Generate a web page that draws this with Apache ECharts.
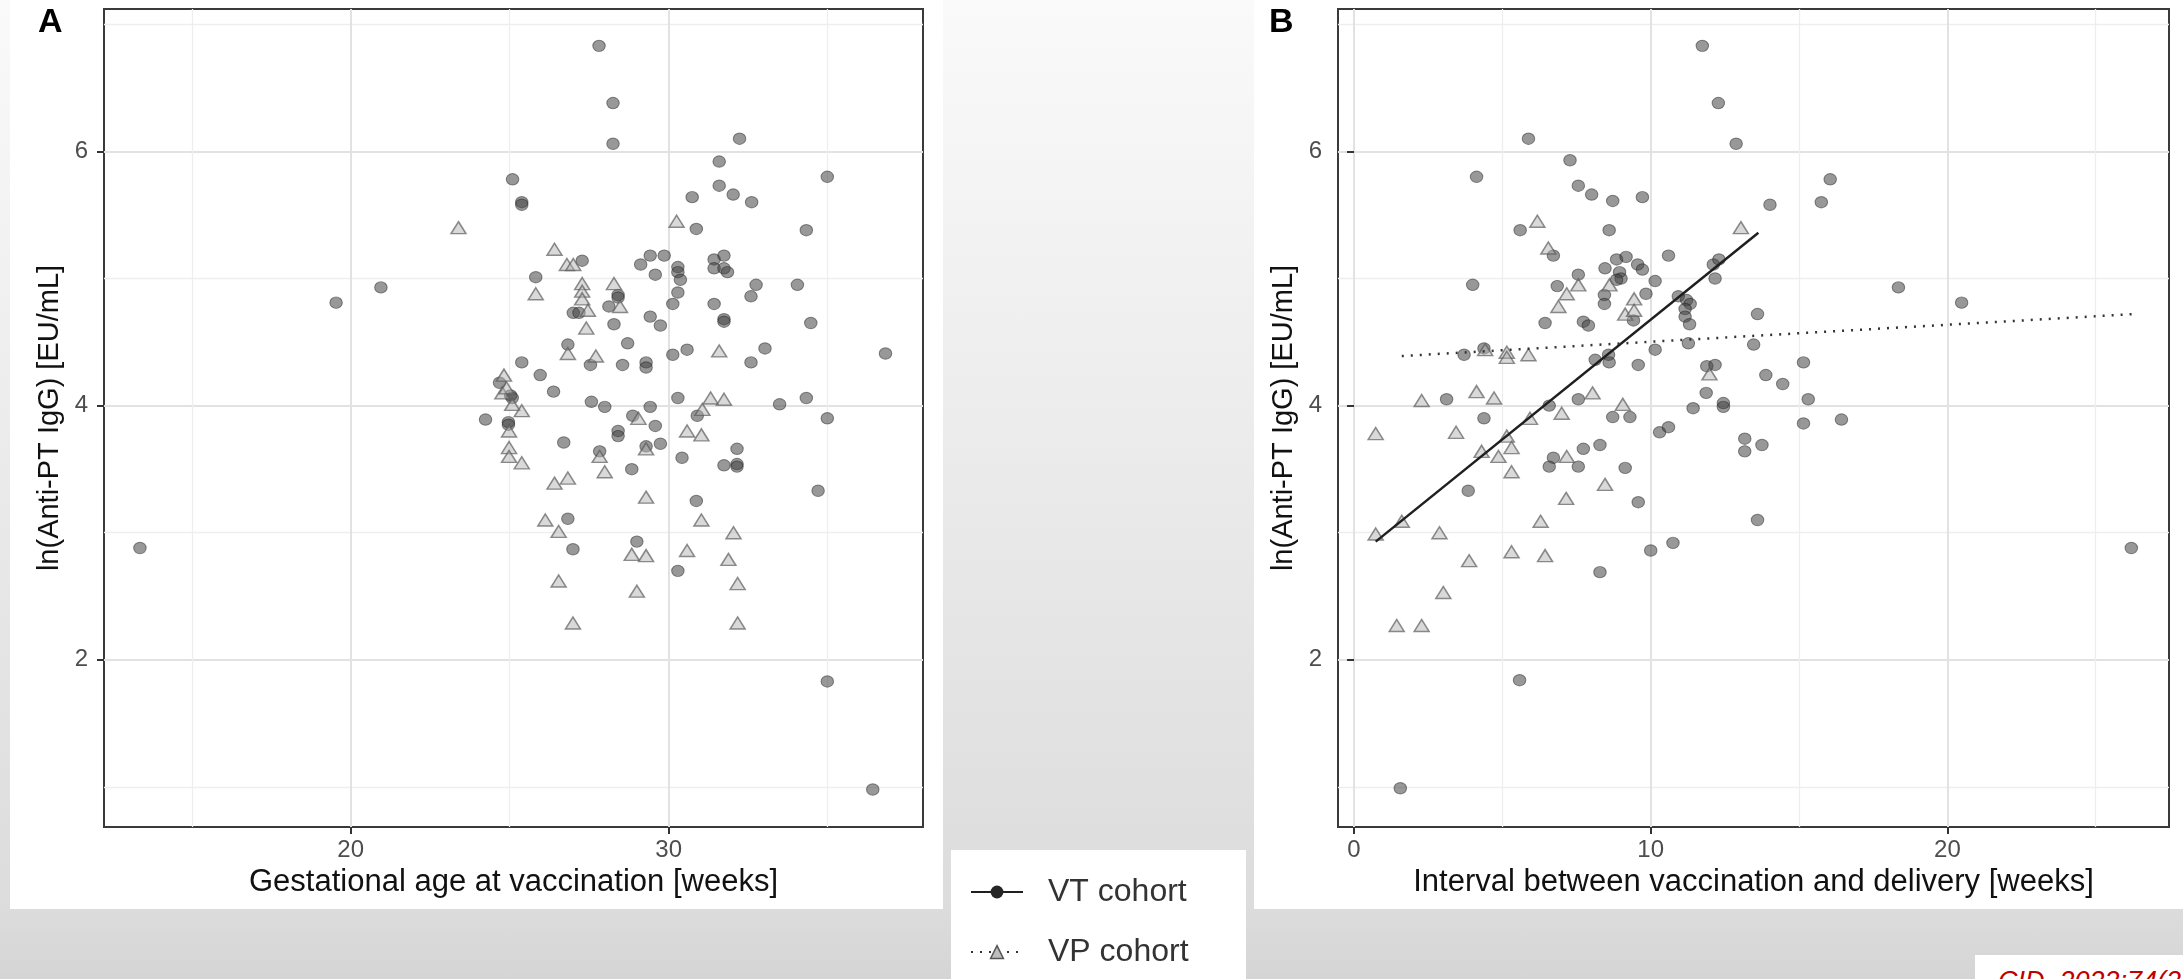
<!DOCTYPE html>
<html>
<head>
<meta charset="utf-8">
<title>Anti-PT IgG vs gestational age / interval</title>
<script src="https://cdn.jsdelivr.net/npm/echarts@6/dist/echarts.min.js"></script>
<style>
  html, body { margin: 0; padding: 0; }
  body {
    width: 2183px; height: 979px; position: relative; overflow: hidden;
    background: linear-gradient(#fafafa 0px, #dcdcdc 909px, #d5d5d5 979px);
    font-family: "Liberation Sans", Arial, sans-serif;
  }
  .box { position: absolute; background: #fff; }
  #chart { position: absolute; left: 0; top: 0; width: 2183px; height: 979px; }
  #cite span {
    position: absolute; left: 23px; top: 11px; white-space: nowrap; line-height: 30px;
    color: #c00000; font-style: italic; font-size: 27px;
  }
</style>
</head>
<body>
<div class="box" style="left:10px;top:0;width:933px;height:909px"></div>
<div class="box" style="left:1254px;top:0;width:929px;height:909px"></div>
<div class="box" style="left:951px;top:850px;width:295px;height:129px"></div>
<div class="box" id="cite" style="left:1975px;top:955px;width:208px;height:24px;overflow:hidden"><span>CID, 2022;74(2)</span></div>
<div id="chart"></div>
<script>
// panel A: gestational age at vaccination (weeks) vs ln(anti-PT IgG)
var vtGestAge = [27.81, 28.25, 28.25, 32.23, 31.59, 25.09, 34.99, 25.38, 25.38, 31.59,
  30.74, 32.03, 32.61, 30.87, 34.33, 27.28, 29.42, 29.86, 29.12, 29.58,
  30.29, 30.29, 30.37, 31.43, 31.74, 31.43, 31.74, 31.85, 25.82, 27.00,
  27.18, 28.41, 28.41, 28.12, 28.28, 29.42, 29.74, 30.29, 30.13, 31.43,
  31.74, 31.74, 32.75, 32.59, 34.05, 34.47, 26.83, 28.71, 27.54, 28.55,
  29.29, 29.29, 30.13, 30.58, 33.03, 32.59, 25.38, 25.96, 24.68, 25.03,
  25.08, 26.38, 24.24, 24.96, 24.96, 26.70, 27.57, 27.99, 29.42, 28.87,
  29.58, 28.41, 28.41, 29.74, 29.29, 27.83, 28.84, 30.29, 30.90, 30.42,
  32.15, 31.74, 32.15, 32.15, 33.49, 34.33, 34.70, 30.87, 26.83, 26.99,
  29.00, 30.29, 36.82, 34.99, 34.99, 36.42, 13.37, 19.54, 20.95];
var vtIgGA = [6.83, 6.38, 6.06, 6.10, 5.92, 5.78, 5.80, 5.60, 5.58, 5.73,
  5.64, 5.66, 5.60, 5.39, 5.38, 5.14, 5.18, 5.18, 5.11, 5.03,
  5.09, 5.05, 4.99, 5.15, 5.18, 5.08, 5.08, 5.05, 5.01, 4.73,
  4.73, 4.87, 4.85, 4.78, 4.64, 4.70, 4.63, 4.89, 4.80, 4.80,
  4.68, 4.66, 4.95, 4.86, 4.95, 4.65, 4.48, 4.49, 4.32, 4.32,
  4.34, 4.30, 4.40, 4.44, 4.45, 4.34, 4.34, 4.24, 4.18, 4.08,
  4.06, 4.11, 3.89, 3.87, 3.85, 3.71, 4.03, 3.99, 3.99, 3.92,
  3.84, 3.80, 3.76, 3.70, 3.68, 3.64, 3.50, 4.06, 3.92, 3.59,
  3.66, 3.53, 3.54, 3.52, 4.01, 4.06, 3.33, 3.25, 3.11, 2.87,
  2.93, 2.70, 4.41, 3.90, 1.83, 0.98, 2.88, 4.81, 4.93];
var vpGestAge = [23.39, 30.25, 26.41, 26.80, 27.00, 25.82, 27.28, 27.28, 27.28, 27.46,
  28.28, 28.47, 27.41, 26.83, 27.71, 31.59, 24.82, 24.77, 24.90, 25.08,
  25.38, 24.98, 24.98, 24.98, 25.38, 29.05, 29.29, 27.83, 27.99, 31.32,
  31.74, 31.06, 30.58, 31.03, 26.41, 26.83, 29.29, 26.12, 31.03, 26.54,
  32.04, 28.84, 29.29, 30.58, 31.88, 26.54, 29.00, 32.17, 26.99, 32.17];
var vpIgGA = [5.40, 5.45, 5.23, 5.11, 5.11, 4.88, 4.96, 4.90, 4.84, 4.75,
  4.96, 4.78, 4.61, 4.41, 4.39, 4.43, 4.24, 4.10, 4.14, 4.01,
  3.96, 3.80, 3.67, 3.60, 3.55, 3.90, 3.66, 3.60, 3.48, 4.06,
  4.05, 3.97, 3.80, 3.77, 3.39, 3.43, 3.28, 3.10, 3.10, 3.01,
  3.00, 2.83, 2.82, 2.86, 2.79, 2.62, 2.54, 2.60, 2.29, 2.29];

// panel B: interval between vaccination and delivery (weeks)
var vtInterval = [11.74, 12.28, 12.88, 5.88, 7.28, 4.13, 16.05, 7.56, 8.01, 8.72,
  9.72, 15.75, 14.02, 5.60, 8.60, 6.72, 10.60, 8.46, 8.85, 9.17,
  8.95, 9.00, 8.85, 9.56, 9.72, 10.15, 7.56, 6.85, 4.00, 12.11,
  12.30, 12.17, 8.44, 8.44, 9.84, 10.93, 11.21, 11.33, 11.16, 11.16,
  11.31, 13.60, 7.73, 7.90, 6.44, 9.42, 4.38, 3.71, 11.27, 10.15,
  13.47, 8.58, 8.60, 8.13, 9.58, 11.89, 12.17, 13.88, 14.45, 3.12,
  11.87, 7.56, 6.58, 11.43, 12.45, 12.45, 4.38, 8.72, 9.30, 10.30,
  10.60, 7.73, 8.29, 13.17, 13.17, 13.75, 6.72, 6.58, 7.56, 9.14,
  3.85, 9.58, 13.60, 10.00, 10.75, 8.29, 5.58, 15.15, 15.31, 16.43,
  15.15, 18.35, 20.48, 26.20, 1.56];
var vtIgGB = [6.83, 6.38, 6.06, 6.10, 5.93, 5.80, 5.78, 5.73, 5.66, 5.61,
  5.64, 5.60, 5.58, 5.38, 5.38, 5.18, 5.18, 5.08, 5.15, 5.17,
  5.05, 5.00, 4.99, 5.11, 5.07, 4.98, 5.03, 4.94, 4.95, 5.11,
  5.15, 5.00, 4.87, 4.80, 4.88, 4.86, 4.83, 4.80, 4.76, 4.70,
  4.64, 4.72, 4.66, 4.63, 4.65, 4.67, 4.45, 4.40, 4.49, 4.44,
  4.48, 4.40, 4.34, 4.36, 4.32, 4.31, 4.32, 4.24, 4.17, 4.05,
  4.10, 4.05, 4.00, 3.98, 4.02, 3.99, 3.90, 3.91, 3.91, 3.79,
  3.83, 3.66, 3.69, 3.74, 3.64, 3.69, 3.59, 3.52, 3.52, 3.51,
  3.33, 3.24, 3.10, 2.86, 2.92, 2.69, 1.84, 4.34, 4.05, 3.89,
  3.86, 4.93, 4.81, 2.88, 0.99];
var vpInterval = [6.18, 6.55, 7.56, 8.61, 7.17, 6.89, 9.44, 9.14, 9.44, 13.04,
  4.42, 5.15, 5.15, 5.88, 4.13, 4.72, 2.28, 8.04, 9.06, 7.00,
  5.93, 0.73, 3.44, 4.30, 5.15, 5.31, 4.87, 5.31, 7.17, 8.46,
  7.15, 1.61, 0.73, 2.88, 6.29, 3.88, 5.31, 6.44, 3.01, 1.44,
  2.28, 11.98];
var vpIgGB = [5.45, 5.24, 4.95, 4.95, 4.88, 4.78, 4.84, 4.72, 4.75, 5.40,
  4.44, 4.42, 4.38, 4.40, 4.11, 4.06, 4.04, 4.10, 4.01, 3.94,
  3.90, 3.78, 3.79, 3.64, 3.76, 3.67, 3.60, 3.48, 3.60, 3.38,
  3.27, 3.09, 2.99, 3.00, 3.09, 2.78, 2.85, 2.82, 2.53, 2.27,
  2.27, 4.25];

// fitted lines in panel B (end points)
var solidFitX = [0.73, 13.63];
var solidFitY = [2.93, 5.36];
var dottedFitX = [1.61, 26.28];
var dottedFitY = [4.39, 4.72];

var xTicksA = [20, 30];
var xTicksB = [0, 10, 20];
var yTicks = [2, 4, 6];

function pairs(xs, ys) {
  return xs.map(function (x, i) { return [x, ys[i]]; });
}

var FONT = '"Liberation Sans", Arial, sans-serif';
var yTitle = 'ln(Anti-PT IgG) [EU/mL]';

function xAxisCfg(grid, min, max, ticks, title) {
  return {
    type: 'value', gridIndex: grid, min: min, max: max, splitNumber: 3,
    name: title, nameLocation: 'middle', nameGap: 40,
    nameTextStyle: { fontSize: 31, color: '#111', fontFamily: FONT },
    axisLine: { show: false },
    axisTick: { show: true, length: 7, customValues: ticks, lineStyle: { color: '#333', width: 2 } },
    axisLabel: { customValues: ticks, margin: 11, fontSize: 24, color: '#4d4d4d', fontFamily: FONT },
    splitLine: { show: true, lineStyle: { color: '#e2e2e2', width: 2 } },
    minorTick: { show: false, splitNumber: 2 },
    minorSplitLine: { show: true, lineStyle: { color: '#eeeeee', width: 1.3 } }
  };
}

function yAxisCfg(grid) {
  return {
    type: 'value', gridIndex: grid, min: 0.685, max: 7.12, splitNumber: 3,
    name: yTitle, nameLocation: 'middle', nameGap: 40,
    nameTextStyle: { fontSize: 29, color: '#111', fontFamily: FONT },
    axisLine: { show: false },
    axisTick: { show: true, length: 7, customValues: yTicks, lineStyle: { color: '#333', width: 2 } },
    axisLabel: { customValues: yTicks, margin: 16, fontSize: 24, color: '#4d4d4d', fontFamily: FONT },
    splitLine: { show: true, lineStyle: { color: '#e2e2e2', width: 2 } },
    minorTick: { show: false, splitNumber: 2 },
    minorSplitLine: { show: true, lineStyle: { color: '#eeeeee', width: 1.3 } }
  };
}

var circleStyle = { color: 'rgba(65,65,65,0.68)', borderColor: 'rgba(30,30,30,0.6)', borderWidth: 1 };
var triStyle = { color: 'rgba(175,175,175,0.6)', borderColor: 'rgba(90,90,90,0.85)', borderWidth: 1.5 };

var myChart = echarts.init(document.getElementById('chart'));

var option = {
  animation: false,
  title: [
    { text: 'A', left: 38, top: 6, padding: 0,
      textStyle: { fontSize: 34, fontWeight: 'bold', color: '#000', fontFamily: FONT } },
    { text: 'B', left: 1269, top: 6, padding: 0,
      textStyle: { fontSize: 34, fontWeight: 'bold', color: '#000', fontFamily: FONT } }
  ],
  legend: {
    orient: 'vertical', left: 970, top: 876, padding: 0,
    itemWidth: 52, itemHeight: 16, itemGap: 28, selectedMode: false,
    textStyle: { fontSize: 32, lineHeight: 32, color: '#333', fontFamily: FONT, padding: [0, 0, 0, 20] },
    data: [
      { name: 'VT cohort' },
      { name: 'VP cohort', itemStyle: { color: '#bdbdbd', borderColor: '#555', borderWidth: 1.5 } }
    ]
  },
  grid: [
    { left: 104, top: 9, width: 819, height: 818, show: true,
      backgroundColor: '#fff', borderColor: '#3a3a3a', borderWidth: 2 },
    { left: 1338, top: 9, width: 831, height: 818, show: true,
      backgroundColor: '#fff', borderColor: '#3a3a3a', borderWidth: 2 }
  ],
  xAxis: [
    xAxisCfg(0, 12.24, 38.0, xTicksA, 'Gestational age at vaccination [weeks]'),
    xAxisCfg(1, -0.54, 27.47, xTicksB, 'Interval between vaccination and delivery [weeks]')
  ],
  yAxis: [yAxisCfg(0), yAxisCfg(1)],
  series: [
    {
      name: 'VT cohort', type: 'line', xAxisIndex: 1, yAxisIndex: 1, z: 4,
      data: pairs(solidFitX, solidFitY), symbol: 'circle', showSymbol: false, silent: true,
      itemStyle: { color: '#262626' }, lineStyle: { color: '#1f1f1f', width: 2.5 }
    },
    {
      name: 'VP cohort', type: 'line', xAxisIndex: 1, yAxisIndex: 1, z: 4,
      data: pairs(dottedFitX, dottedFitY), symbol: 'triangle', showSymbol: false, silent: true,
      itemStyle: { color: '#333' }, lineStyle: { color: '#333', width: 2.5, type: [2, 7] }
    },
    {
      name: 'VT cohort', type: 'scatter', xAxisIndex: 0, yAxisIndex: 0,
      symbol: 'circle', symbolSize: [12.5, 11.5], itemStyle: circleStyle,
      data: pairs(vtGestAge, vtIgGA)
    },
    {
      name: 'VP cohort', type: 'scatter', xAxisIndex: 0, yAxisIndex: 0,
      symbol: 'triangle', symbolSize: [15, 12], itemStyle: triStyle,
      data: pairs(vpGestAge, vpIgGA)
    },
    {
      name: 'VT cohort', type: 'scatter', xAxisIndex: 1, yAxisIndex: 1,
      symbol: 'circle', symbolSize: [12.5, 11.5], itemStyle: circleStyle,
      data: pairs(vtInterval, vtIgGB)
    },
    {
      name: 'VP cohort', type: 'scatter', xAxisIndex: 1, yAxisIndex: 1,
      symbol: 'triangle', symbolSize: [15, 12], itemStyle: triStyle,
      data: pairs(vpInterval, vpIgGB)
    }
  ]
};

myChart.setOption(option);
</script>
</body>
</html>
